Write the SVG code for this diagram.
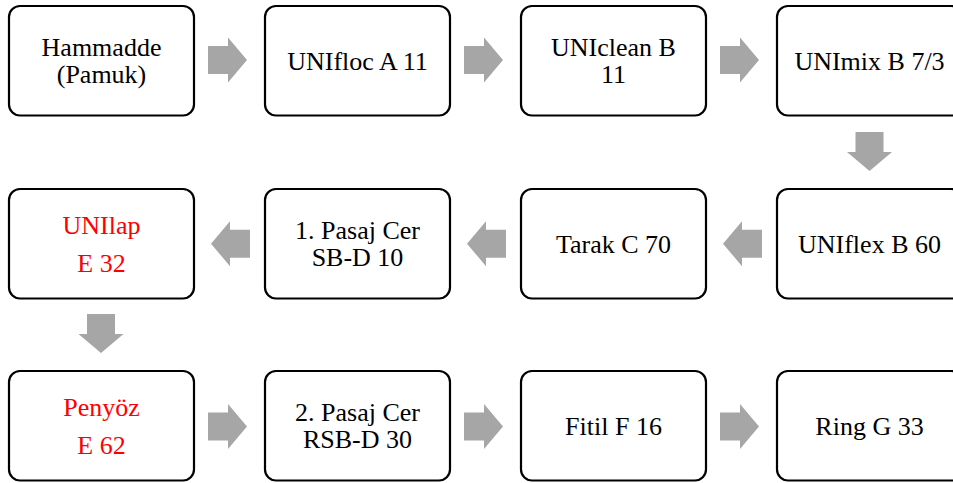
<svg xmlns="http://www.w3.org/2000/svg" xmlns:xlink="http://www.w3.org/1999/xlink" width="953" height="483" viewBox="0 0 953 483">
<style>
.box{fill:#fff;stroke:#000;stroke-width:2.2}
.t{font-size:26px;fill:#000;text-anchor:middle}
.r{fill:#ff0000}
.arr{fill:#a6a6a6}
</style>
<defs>
<path id="ar" d="M0,-14 H20 V-22.5 L39,0 L20,22.5 V14 H0 Z"/>
</defs>
<rect width="953" height="483" fill="#fff"/>
<g id="connectors" class="arr">
<use xlink:href="#ar" href="#ar" transform="translate(208,60)"/>
<use xlink:href="#ar" href="#ar" transform="translate(464,60)"/>
<use xlink:href="#ar" href="#ar" transform="translate(720,60)"/>
<use xlink:href="#ar" href="#ar" transform="translate(869.5,132) rotate(90)"/>
<use xlink:href="#ar" href="#ar" transform="translate(762,243.7) rotate(180)"/>
<use xlink:href="#ar" href="#ar" transform="translate(506,243.7) rotate(180)"/>
<use xlink:href="#ar" href="#ar" transform="translate(250,243.7) rotate(180)"/>
<use xlink:href="#ar" href="#ar" transform="translate(101,314) rotate(90)"/>
<use xlink:href="#ar" href="#ar" transform="translate(208,426.5)"/>
<use xlink:href="#ar" href="#ar" transform="translate(464,426.5)"/>
<use xlink:href="#ar" href="#ar" transform="translate(720,426.5)"/>
</g>
<g id="n1"><rect class="box" x="9" y="6" width="185" height="109.5" rx="11"/><text class="t" style="font-family:serif" x="101.5" y="56.3">Hammadde</text><text class="t" style="font-family:serif" x="101.5" y="82.8">(Pamuk)</text></g>
<g id="n2"><rect class="box" x="265" y="6" width="185" height="109.5" rx="11"/><text class="t" style="font-family:serif" x="357.5" y="69.5">UNIfloc A 11</text></g>
<g id="n3"><rect class="box" x="521" y="6" width="185" height="109.5" rx="11"/><text class="t" style="font-family:serif" x="613.5" y="56.3">UNIclean B</text><text class="t" style="font-family:serif" x="613.5" y="82.8">11</text></g>
<g id="n4"><rect class="box" x="777" y="6" width="185" height="109.5" rx="11"/><text class="t" style="font-family:serif" x="869.5" y="69.5">UNImix B 7/3</text></g>
<g id="n5"><rect class="box" x="777" y="189" width="185" height="109.5" rx="11"/><text class="t" style="font-family:serif" x="869.5" y="252.5">UNIflex B 60</text></g>
<g id="n6"><rect class="box" x="521" y="189" width="185" height="109.5" rx="11"/><text class="t" style="font-family:serif" x="613.5" y="252.5">Tarak C 70</text></g>
<g id="n7"><rect class="box" x="265" y="189" width="185" height="109.5" rx="11"/><text class="t" style="font-family:serif" x="357.5" y="239.3">1. Pasaj Cer</text><text class="t" style="font-family:serif" x="357.5" y="265.8">SB-D 10</text></g>
<g id="n8"><rect class="box" x="9" y="189" width="185" height="109.5" rx="11"/><text class="t r" style="font-family:serif" x="101.5" y="233.5">UNIlap</text><text class="t r" style="font-family:serif" x="101.5" y="271.5">E 32</text></g>
<g id="n9"><rect class="box" x="9" y="371" width="185" height="109.5" rx="11"/><text class="t r" style="font-family:serif" x="101.5" y="415.5">Penyöz</text><text class="t r" style="font-family:serif" x="101.5" y="453.5">E 62</text></g>
<g id="n10"><rect class="box" x="265" y="371" width="185" height="109.5" rx="11"/><text class="t" style="font-family:serif" x="357.5" y="421.3">2. Pasaj Cer</text><text class="t" style="font-family:serif" x="357.5" y="447.8">RSB-D 30</text></g>
<g id="n11"><rect class="box" x="521" y="371" width="185" height="109.5" rx="11"/><text class="t" style="font-family:serif" x="613.5" y="434.5">Fitil F 16</text></g>
<g id="n12"><rect class="box" x="777" y="371" width="185" height="109.5" rx="11"/><text class="t" style="font-family:serif" x="869.5" y="434.5">Ring G 33</text></g>
</svg>
